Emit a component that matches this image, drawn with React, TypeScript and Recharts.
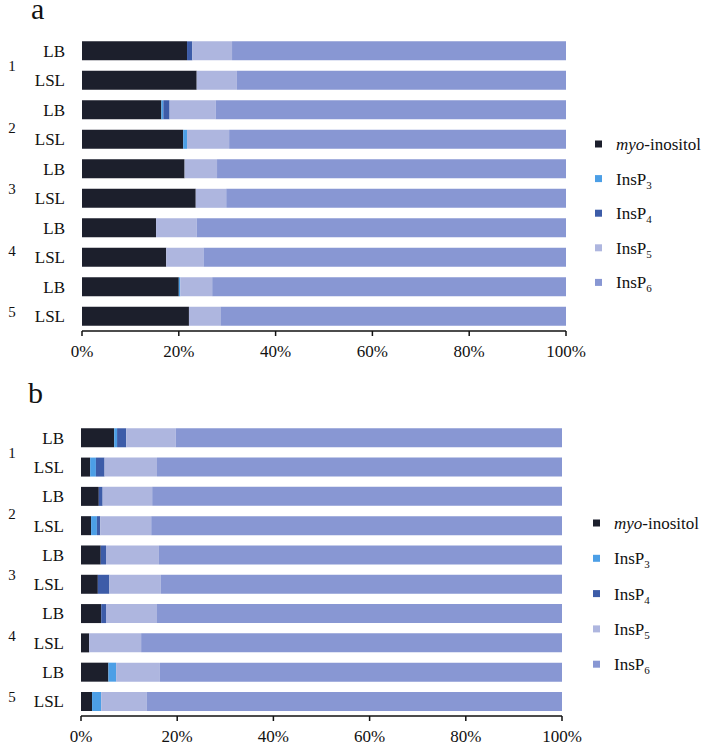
import React from "react";
import { Bar, BarChart, XAxis, YAxis } from "recharts";

const groups = ["1", "1", "2", "2", "3", "3", "4", "4", "5", "5"];
const samples = ["LB", "LSL", "LB", "LSL", "LB", "LSL", "LB", "LSL", "LB", "LSL"];

// panel a (percent of total)
const aMyo = [21.7, 23.7, 16.4, 20.9, 21.2, 23.5, 15.3, 17.4, 20.0, 22.1];
const aP3 = [0, 0, 0.4, 0.8, 0, 0, 0, 0, 0.3, 0];
const aP4 = [1.1, 0, 1.3, 0, 0, 0, 0, 0, 0, 0];
const aP5 = [8.2, 8.3, 9.5, 8.7, 6.7, 6.3, 8.4, 7.7, 6.6, 6.5];
const aP6 = [69.0, 68.0, 72.4, 69.6, 72.1, 70.2, 76.3, 74.9, 73.1, 71.4];

// panel b
const bMyo = [6.9, 1.9, 3.7, 2.1, 4.1, 3.5, 4.2, 1.7, 5.7, 2.3];
const bP3 = [0.6, 1.2, 0, 1.2, 0, 0, 0, 0, 1.6, 1.9];
const bP4 = [1.9, 1.8, 0.8, 0.7, 1.1, 2.4, 1.0, 0, 0, 0];
const bP5 = [10.3, 10.9, 10.3, 10.6, 11.0, 10.7, 10.6, 10.8, 9.1, 9.5];
const bP6 = [80.3, 84.2, 85.2, 85.4, 83.8, 83.4, 84.2, 87.5, 83.6, 86.3];

const xTicks = [0, 0.2, 0.4, 0.6, 0.8, 1];

const series = [
  { key: "myo", color: "#1c1f2c" },
  { key: "p3", color: "#4c9fe6" },
  { key: "p4", color: "#3d5ca8" },
  { key: "p5", color: "#aeb6df" },
  { key: "p6", color: "#8897d3" },
];
const legendSubs = ["", "3", "4", "5", "6"];

const FONT = "Liberation Serif, Tinos, Times New Roman, DejaVu Serif, serif";

function buildRows(myo: number[], p3: number[], p4: number[], p5: number[], p6: number[]) {
  return samples.map((s, i) => ({
    id: `${groups[i]}-${s}`,
    name: s,
    group: groups[i],
    myo: myo[i],
    p3: p3[i],
    p4: p4[i],
    p5: p5[i],
    p6: p6[i],
  }));
}

const rowsA = buildRows(aMyo, aP3, aP4, aP5, aP6);
const rowsB = buildRows(bMyo, bP3, bP4, bP5, bP6);

function CatTick(props: any) {
  const { x, y, payload, index } = props;
  const [g, s] = String(payload.value).split("-");
  const first = index % 2 === 0;
  const gi = Math.floor(index / 2);
  return (
    <g>
      <text x={x} y={y} dy="0.35em" textAnchor="end" fontSize={17} style={{ fontFamily: FONT }} fill="#111">
        {s}
      </text>
      {first && (
        <text
          x={12}
          y={y + 15 + gi * 2.5}
          dy="0.35em"
          textAnchor="middle"
          fontSize={15}
          style={{ fontFamily: FONT }}
          fill="#111"
        >
          {g}
        </text>
      )}
    </g>
  );
}

function Panel({ rows, height, right, yWidth, bottom }: any) {
  return (
    <BarChart
      width={711}
      height={height}
      data={rows}
      layout="vertical"
      stackOffset="expand"
      barCategoryGap="18%"
      margin={{ top: 36, right, bottom, left: 0 }}
      style={{ fontFamily: FONT }}
    >
      <XAxis
        type="number"
        domain={[0, 1]}
        ticks={xTicks}
        tickFormatter={(v: number) => `${Math.round(v * 100)}%`}
        axisLine={{ stroke: "#111", strokeWidth: 1.5 }}
        tickLine={{ stroke: "#111", strokeWidth: 1.5 }}
        tickSize={5}
        tickMargin={9}
        height={30}
        tick={{ fontSize: 17, fontFamily: FONT, fill: "#111" }}
      />
      <YAxis
        type="category"
        dataKey="id"
        width={yWidth}
        axisLine={false}
        tickLine={false}
        tickSize={0}
        tickMargin={17}
        interval={0}
        tick={<CatTick />}
      />
      {series.map((s) => (
        <Bar key={s.key} dataKey={s.key} stackId="a" fill={s.color} isAnimationActive={false} />
      ))}
    </BarChart>
  );
}

function Legend({ x, y0, step }: { x: number; y0: number; step: number }) {
  return (
    <g style={{ fontFamily: FONT }} fill="#111">
      {series.map((s, i) => {
        const cy = y0 + i * step;
        return (
          <g key={s.key}>
            <rect x={x} y={cy - 3.5} width={7} height={7} fill={s.color} />
            {i === 0 ? (
              <text x={x + 21} y={cy} dy="0.35em" fontSize={17}>
                <tspan fontStyle="italic">myo</tspan>
                <tspan>-inositol</tspan>
              </text>
            ) : (
              <text x={x + 21} y={cy} dy="0.35em" fontSize={17}>
                <tspan>InsP</tspan>
                <tspan fontSize={11} dy={4}>
                  {legendSubs[i]}
                </tspan>
              </text>
            )}
          </g>
        );
      })}
    </g>
  );
}

export default function App() {
  return (
    <div
      style={{
        position: "absolute",
        left: 0,
        top: 0,
        width: 711,
        height: 747,
        background: "#fff",
        fontFamily: FONT,
      }}
    >
      <div style={{ position: "absolute", left: 0, top: 0 }}>
        <Panel rows={rowsA} height={370} right={145} yWidth={82} bottom={9} />
      </div>
      <div style={{ position: "absolute", left: 0, top: 387 }}>
        <Panel rows={rowsB} height={360} right={149} yWidth={81} bottom={1} />
      </div>
      <svg width={711} height={747} style={{ position: "absolute", left: 0, top: 0, pointerEvents: "none" }}>
        <text x={31} y={19} fontSize={30} style={{ fontFamily: FONT }} fill="#111">
          a
        </text>
        <text x={28} y={403} fontSize={30} style={{ fontFamily: FONT }} fill="#111">
          b
        </text>
        <Legend x={595} y0={144} step={34.6} />
        <Legend x={593} y0={523} step={35.3} />
      </svg>
    </div>
  );
}
